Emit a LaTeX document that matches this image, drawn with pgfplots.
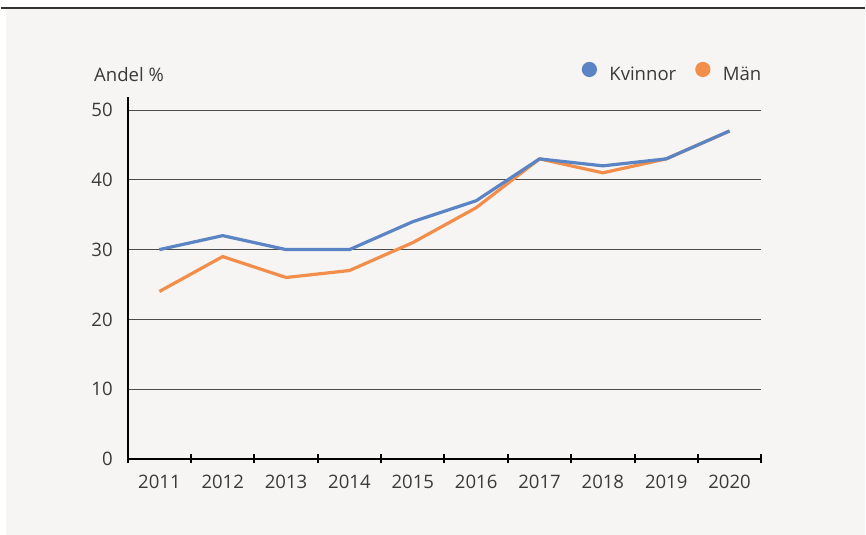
\documentclass[border=0pt]{standalone}
\usepackage{fontspec}
\setmainfont{Open Sans}
\usepackage{pgfplots}
\pgfplotsset{compat=1.18}
\definecolor{kv}{HTML}{5B84C4}
\definecolor{ma}{HTML}{F28E4A}
\definecolor{bg}{HTML}{F6F5F3}
\definecolor{txt}{HTML}{3A3A3A}
\begin{document}
\begin{tikzpicture}
\fill[white] (0pt,0pt) rectangle (433pt,268pt);
\fill[bg] (2.5pt,0pt) rectangle (433pt,264pt);
\draw[line width=1pt, color=black!80] (0pt,264pt) -- (433pt,264pt);
\begin{axis}[
  at={(63.5pt,38pt)}, anchor=south west,
  scale only axis, width=317.5pt, height=181.5pt,
  xmin=-0.5, xmax=9.5, ymin=0, ymax=51.9,
  axis x line*=bottom, axis y line*=left,
  x axis line style={line width=1pt, black},
  y axis line style={line width=0.8pt, black},
  xtick={0,...,9},
  xticklabels={2011,2012,2013,2014,2015,2016,2017,2018,2019,2020},
  minor xtick={-0.5,0.5,...,9.5},
  major tick length=0pt,
  minor tick length=4.5pt,
  tick align=center,
  minor tick style={line width=1pt, black},
  ytick={0,10,...,50},
  ymajorgrids,
  major grid style={line width=0.5pt, color=black!70},
  tick label style={font=\fontsize{9.3}{10}\selectfont, color=txt},
  /pgf/number format/assume math mode=true,
  xticklabel style={yshift=-4.5pt},
  yticklabel style={xshift=-4pt},
  legend style={draw=none, fill=none, inner sep=0pt, outer sep=0pt,
    at={(1,1)}, anchor=east, yshift=12pt,
    font=\fontsize{9.3}{10}\selectfont, text=txt,
    nodes={inner sep=0pt},
    /tikz/every even column/.append style={column sep=9.5pt}},
  legend columns=2,
  legend image code/.code={\fill (0pt,3pt) circle (3pt); \path[draw=none,fill=none] (-3pt,0pt) -- (10pt,0pt);},
  reverse legend,
]
\addplot[ma, line width=1.6pt, line join=round] coordinates {
(0,24) (1,29) (2,26) (3,27) (4,31) (5,36) (6,43) (7,41) (8,43) (9,47)};
\addlegendentry{Män}
\addplot[kv, line width=1.6pt, line join=round] coordinates {
(0,30) (1,32) (2,30) (3,30) (4,34) (5,37) (6,43) (7,42) (8,43) (9,47)};
\addlegendentry{Kvinnor}
\end{axis}
\node[anchor=base west, inner sep=0pt, font=\fontsize{9.3}{10}\selectfont, text=txt] at (46.5pt,227pt) {Andel \%};
\end{tikzpicture}
\end{document}
